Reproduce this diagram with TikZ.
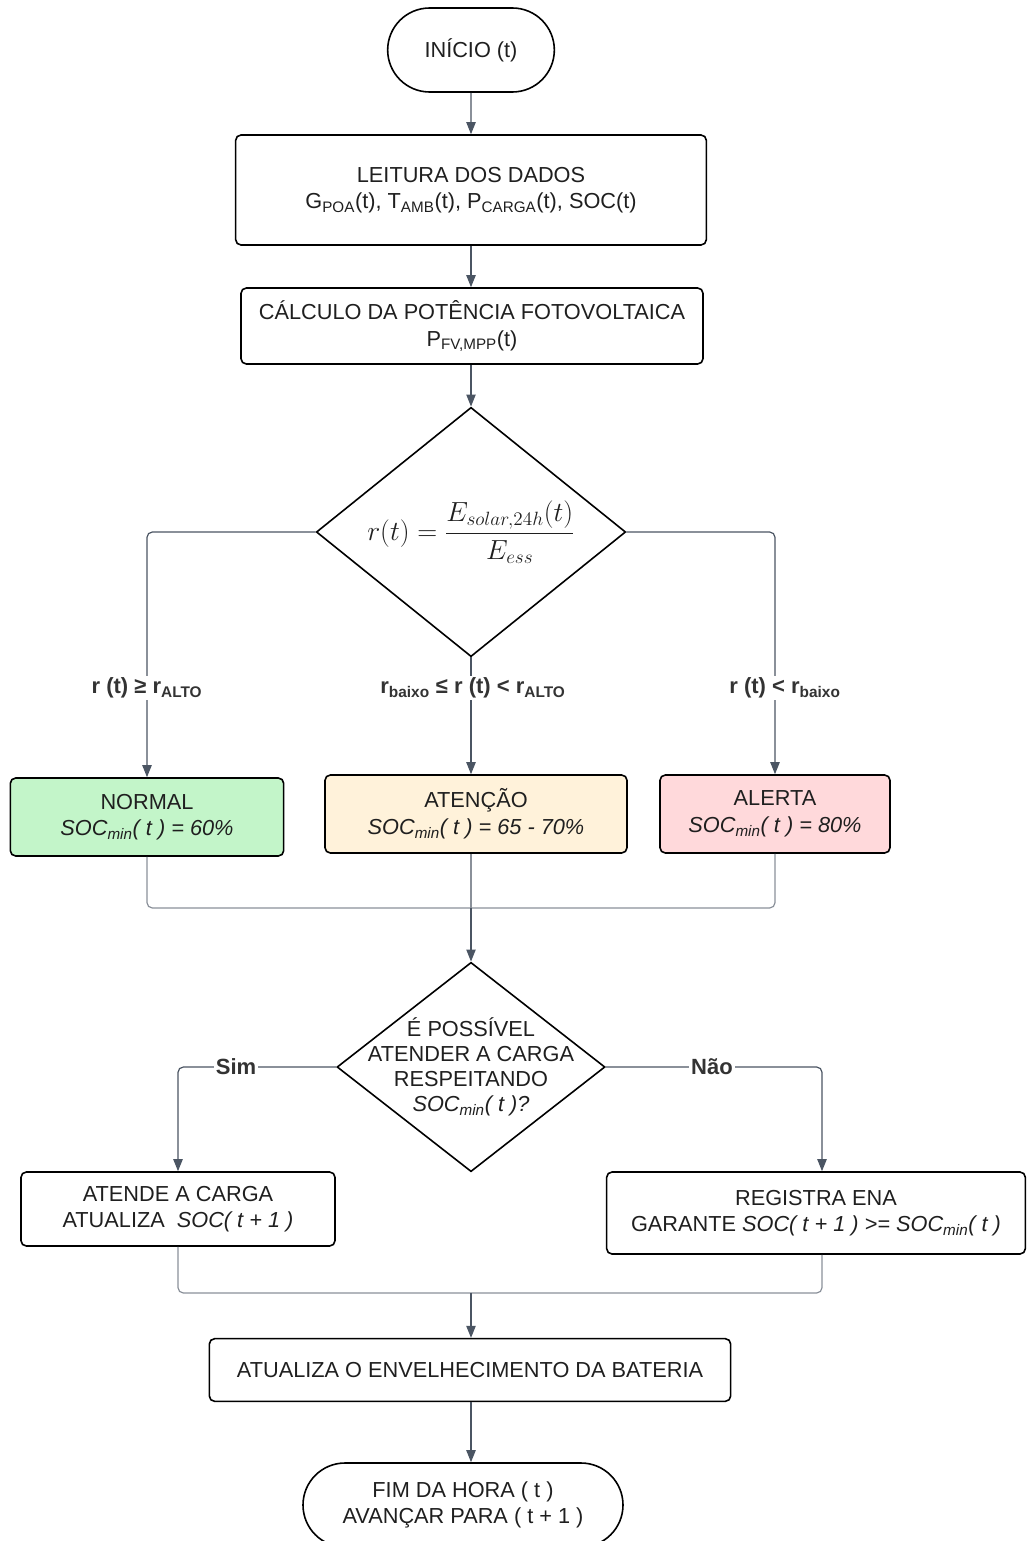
\documentclass[tikz,border=0pt]{standalone}
\usepackage{fontspec}
\setmainfont{Liberation Sans}
\usetikzlibrary{shapes.geometric,shapes.misc,arrows.meta}
\definecolor{lineg}{HTML}{4B5563}
\definecolor{mergeg}{HTML}{8A9099}
\definecolor{okgreen}{HTML}{C3F5C9}
\definecolor{warnyel}{HTML}{FFF2DA}
\definecolor{alertred}{HTML}{FFD9DB}
\newcommand\lsub[1]{\textsubscript{#1}}
\begin{document}
\begin{tikzpicture}[x=0.75pt,y=-0.75pt,
  txt/.style={align=center,font=\fontsize{16.3}{20}\selectfont,text=black!88,inner sep=0pt},
  box/.style={txt,draw=black,line width=1.2pt,rounded corners=4pt},
  term/.style={txt,rounded rectangle,draw=black,line width=1.2pt},
  dec/.style={diamond,draw=black,line width=1.2pt,inner sep=0pt},
  conn/.style={draw=lineg,line width=0.9pt,-{Triangle[length=9pt,width=7pt]}},
  plainc/.style={draw=mergeg,line width=0.9pt},
  lbl/.style={fill=white,font=\bfseries\fontsize{16.5}{18}\selectfont,inner sep=1.5pt,text=black!80}]
\useasboundingbox (0,0) rectangle (1029,1541);

\node[term,minimum width=125pt,minimum height=63pt] (start) at (471,50) {INÍCIO (t)};
\node[box,minimum width=353pt,minimum height=82.5pt] (read) at (471,190)
  {LEITURA DOS DADOS\\G\lsub{POA}(t), T\lsub{AMB}(t), P\lsub{CARGA}(t), SOC(t)};
\node[box,minimum width=346.5pt,minimum height=57pt] (calc) at (472,326)
  {CÁLCULO DA POTÊNCIA FOTOVOLTAICA\\P\lsub{FV,MPP}(t)};
\node[dec,minimum width=232pt,minimum height=187pt] (d1) at (471,532) {};
\node[txt] (d1t) at (d1.center)
  {\fontsize{20.5}{24}\selectfont$\displaystyle r(t)=\frac{E_{solar,24h}(t)}{E_{ess}}$};

\node[box,fill=okgreen,minimum width=205pt,minimum height=58.5pt] (normal) at (147,817)
  {NORMAL\\\textit{SOC\lsub{min}( t ) = 60\%}};
\node[box,fill=warnyel,minimum width=226.5pt,minimum height=58.5pt] (aten) at (476,814)
  {ATENÇÃO\\\textit{SOC\lsub{min}( t ) = 65 - 70\%}};
\node[box,fill=alertred,minimum width=172.5pt,minimum height=58.5pt] (alert) at (775,814)
  {ALERTA\\\textit{SOC\lsub{min}( t ) = 80\%}};

\node[dec,minimum width=201pt,minimum height=157pt] (d2) at (471,1067) {};
\node[txt,font=\fontsize{16.3}{18.75}\selectfont] (d2t) at (471,1067)
  {É POSSÍVEL\\ATENDER A CARGA\\RESPEITANDO\\\textit{SOC\lsub{min}( t )?}};

\node[box,minimum width=235.5pt,minimum height=55.5pt] (atende) at (178,1209)
  {ATENDE A CARGA\\ATUALIZA\ \ \textit{SOC( t + 1 )}};
\node[box,minimum width=314pt,minimum height=61.5pt] (reg) at (816,1213)
  {REGISTRA ENA\\GARANTE \textit{SOC( t + 1 ) >= SOC\lsub{min}( t )}};

\node[box,minimum width=391pt,minimum height=47pt] (aging) at (470,1370)
  {ATUALIZA O ENVELHECIMENTO DA BATERIA};
\node[term,minimum width=240pt,minimum height=63pt] (fim) at (463,1505)
  {FIM DA HORA ( t )\\AVANÇAR PARA ( t + 1 )};

\coordinate (m1) at (471,908);
\coordinate (m2) at (471,1293);

% top chain
\draw[conn] (start) -- (read);
\draw[conn] (read) -- (calc.north -| read);
\draw[conn] (calc.south -| d1) -- (d1.north);

% decision 1 branches
\draw[conn,rounded corners=4pt] (d1.west) -| (normal.north);
\draw[conn] (d1.south) -- (d1.south |- aten.north);
\draw[conn,rounded corners=4pt] (d1.east) -| (alert.north);
\node[lbl] (l1) at (147,688) {r (t) ≥ r\lsub{ALTO}};
\node[lbl] (l2) at (473,688) {r\lsub{baixo} ≤ r (t) < r\lsub{ALTO}};
\node[lbl] (l3) at (785,688) {r (t) < r\lsub{baixo}};

% merge 1
\draw[plainc,rounded corners=4pt] (normal.south) |- (m1);
\draw[plainc,rounded corners=4pt] (alert.south) |- (m1);
\draw[plainc] (aten.south -| m1) -- (m1);
\draw[conn] (m1) -- (d2.north);

% decision 2 branches
\draw[conn,rounded corners=4pt] (d2.west) -| (atende.north);
\draw[conn,rounded corners=4pt] (d2.east) -| ([xshift=4.5pt]reg.north);
\node[lbl] (sim) at (236,1067) {Sim};
\node[lbl] (nao) at (712,1067) {Não};

% merge 2
\draw[plainc,rounded corners=4pt] (atende.south) |- (m2);
\draw[plainc,rounded corners=4pt] ([xshift=4.5pt]reg.south) |- (m2);
\draw[conn] (m2) -- (aging.north -| m2);
\draw[conn] (aging.south -| m2) -- (m2 |- fim.north);
\end{tikzpicture}
\end{document}
